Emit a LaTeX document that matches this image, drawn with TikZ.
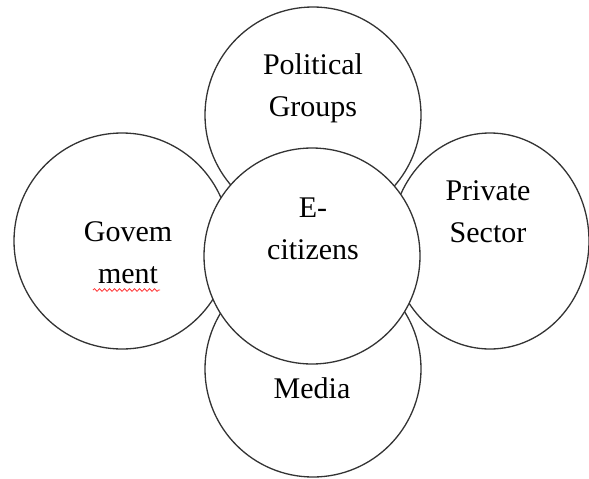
\documentclass[tikz,border=0pt]{standalone}
\usepackage{fontspec}
\setmainfont{Liberation Serif}
\usetikzlibrary{shapes.geometric}
\usetikzlibrary{decorations}
\usetikzlibrary{decorations.pathmorphing}

\begin{document}
\begin{tikzpicture}[x=1pt,y=-1pt,
	bulle/.style={draw=black!80,line width=1.3pt,circle,minimum size=216pt,inner sep=0pt},
	etiq/.style={align=center,font=\fontsize{30}{42}\selectfont,inner sep=0pt}]
\useasboundingbox (0,0) rectangle (589,479);
	%cercles autour
	\node[bulle] (P) at (313,115) {};
	\node[bulle] (G) at (122,241) {};
	\node[bulle,ellipse,minimum width=198pt,minimum height=216pt] (S) at (490,241) {};
	\node[bulle] (M) at (313,369) {};
	%cercle du centre, par dessus
	\node[bulle,fill=white] (E) at (312,256) {};

	%textes (ancre sur la ligne du bas)
	\node[etiq,anchor=base] (PT) at (313,116) {Political\\Groups};
	\node[etiq,anchor=base] (GT) at (128,283) {Govem\\ment};
	\node[etiq,anchor=base] (ST) at (488,242) {Private\\Sector};
	\node[etiq,anchor=base] (ET) at (313,259) {E-\\citizens};
	\node[etiq,anchor=base] (MT) at (312,398) {Media};

	%soulignement rouge sous "ment"
	\draw[red!80,line width=0.8pt,decorate,decoration={snake,amplitude=1.3pt,segment length=5pt}] (93,290) -- (160,290);
\end{tikzpicture}
\end{document}
